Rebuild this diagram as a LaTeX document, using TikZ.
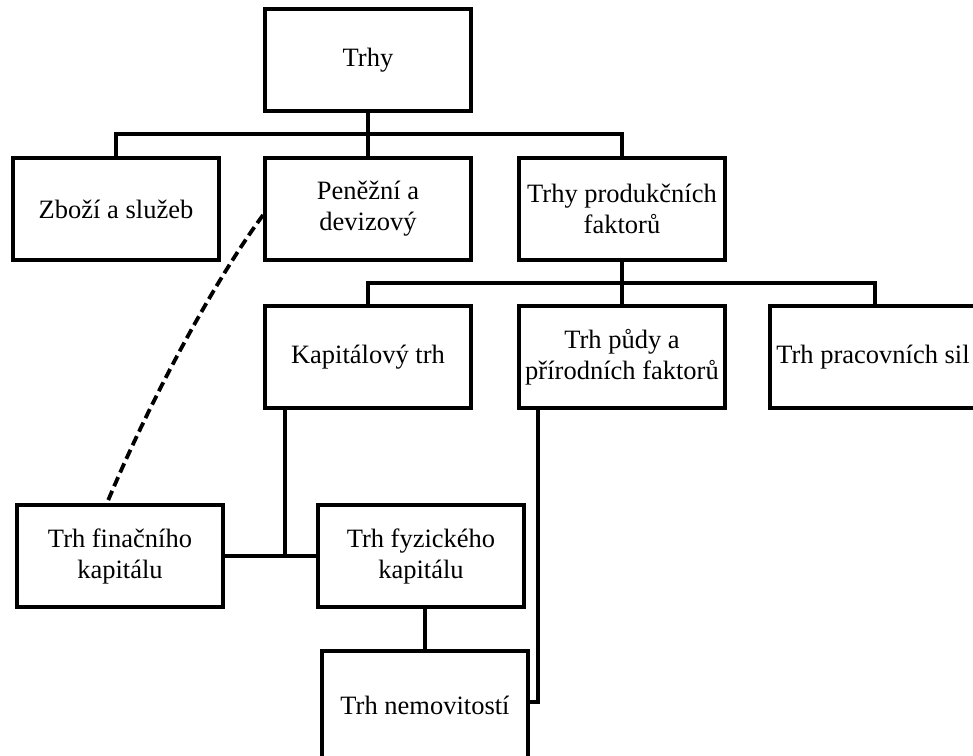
\documentclass[tikz,border=0pt]{standalone}
\usepackage{fontspec}
\setmainfont{Liberation Serif}
\begin{document}
\begin{tikzpicture}[x=1pt,y=-1pt,
  box/.style={draw=black,line width=3.8pt,fill=white,minimum width=206pt,minimum height=102pt,
    align=center,inner sep=2pt,font=\fontsize{26.5}{31}\selectfont},
  conn/.style={line width=3.8pt,line cap=rect},
  dashconn/.style={line width=3.8pt,dash pattern=on 10pt off 5pt}]
\useasboundingbox (0,0) rectangle (973,755);
\clip (0,0) rectangle (973,755);
\node[box] (trhy) at (368,60) {Trhy};
\node[box] (zbozi) at (116,209) {Zboží a služeb};
\node[box] (penez) at (368,209) {Peněžní a\\devizový};
\node[box] (produk) at (622,209) {Trhy produkčních\\faktorů};
\node[box] (kapital) at (368,357) {Kapitálový trh};
\node[box] (puda) at (622,357) {Trh půdy a\\přírodních faktorů};
\node[box,minimum width=214pt] (prac) at (877,357) {\hspace*{-8pt}Trh pracovních sil};
\node[box] (fin) at (120,556) {Trh finačního\\kapitálu};
\node[box] (fyz) at (421,556) {Trh fyzického\\kapitálu};
\node[box,minimum height=112pt] (nemov) at (425,707) {\raisebox{4pt}{Trh nemovitostí}};
\coordinate (j1) at (368,134);
\coordinate (j2) at (622,283);
\coordinate (j3) at (285,556);
\coordinate (j4) at (538,0);
\coordinate (j5) at (0,702);
\draw[conn] (trhy.south) -- (penez.north);
\draw[conn] (zbozi.north) |- (j1) -| (produk.north);
\draw[conn] (produk.south) -- (puda.north);
\draw[conn] (kapital.north) |- (j2) -| ([xshift=-2pt]prac.north);
\draw[conn] (kapital.south -| j3) -- (j3);
\draw[conn] (fin.east) -- (fyz.west);
\draw[conn] (fyz.south -| nemov.north) -- (nemov.north);
\draw[conn] (puda.south -| j4) |- (nemov.east |- j5);
\draw[dashconn] ([yshift=-6pt]penez.west) .. controls (215,280) and (150,400) .. ([xshift=-13pt]fin.north);
\end{tikzpicture}
\end{document}
